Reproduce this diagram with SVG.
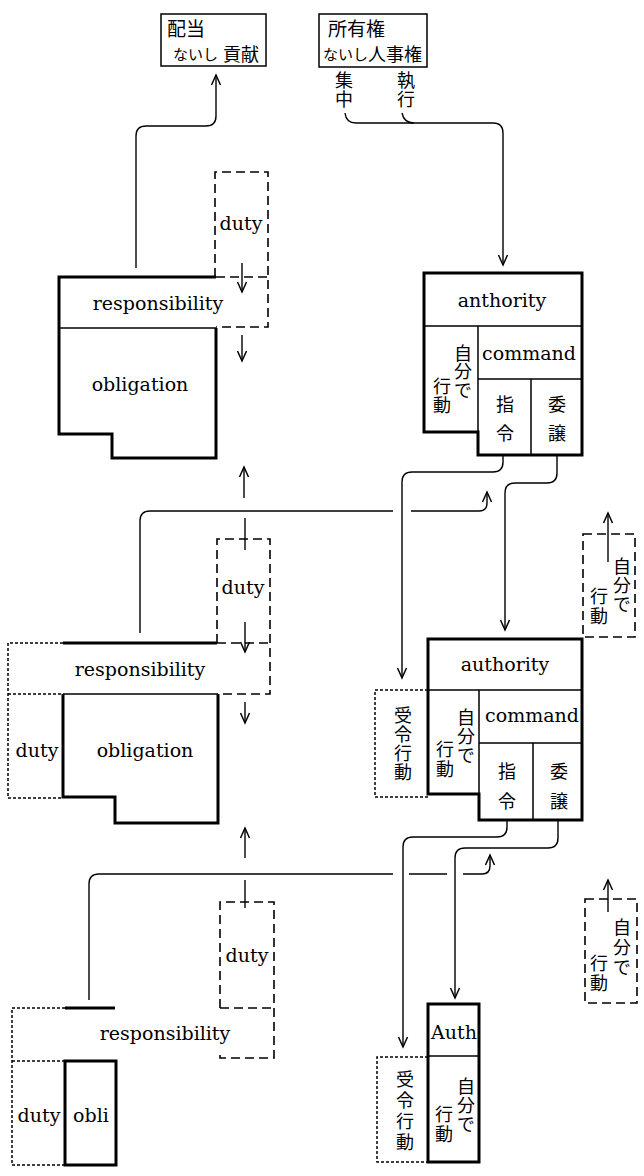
<svg xmlns="http://www.w3.org/2000/svg" width="644" height="1176" viewBox="0 0 644 1176">
<defs>
<style>
.thick{stroke:#000;stroke-width:3;fill:none;stroke-linejoin:miter}
.thin{stroke:#000;stroke-width:1.5;fill:none}
.dash{stroke:#000;stroke-width:1.6;fill:none;stroke-dasharray:9 5}
.dot{stroke:#000;stroke-width:1.5;fill:none;stroke-dasharray:3 2}
.con{stroke:#000;stroke-width:1.4;fill:none}
.en{font-family:"DejaVu Serif","Liberation Serif",serif;font-size:19px;text-anchor:middle;dominant-baseline:central;fill:#000}
.ja{font-family:"Noto Sans CJK JP","Noto Sans CJK SC",sans-serif;font-size:18px;text-anchor:middle;dominant-baseline:central;fill:#000}
.jl{font-family:"Noto Sans CJK JP","Noto Sans CJK SC",sans-serif;dominant-baseline:central;fill:#000}
.v{font-family:"Noto Sans CJK JP","Noto Sans CJK SC",sans-serif;font-size:18px;writing-mode:vertical-rl;text-anchor:start;dominant-baseline:central;fill:#000}
</style>
<marker id="ah" viewBox="-12 -7 14 14" refX="0" refY="0" markerWidth="14" markerHeight="14" markerUnits="userSpaceOnUse" orient="auto">
<path d="M-10,-4.5 L0,0 L-10,4.5" fill="none" stroke="#000" stroke-width="1.5"/>
</marker>
</defs>
<rect width="644" height="1176" fill="#fff"/>

<g id="haito">
<rect x="161" y="14" width="105" height="52" class="thin"/>
<text class="jl" x="167" y="27" font-size="19">配当</text>
<text class="jl" y="53"><tspan x="173" font-size="15">ないし</tspan><tspan x="223" font-size="18">貢献</tspan></text>
</g>

<g id="shoyuken">
<rect x="319" y="14" width="108" height="53" class="thin"/>
<text class="jl" x="328" y="27" font-size="19">所有権</text>
<text class="jl" y="53"><tspan x="323" font-size="15">ないし</tspan><tspan x="368" font-size="18">人事権</tspan></text>
</g>

<g id="shuchu">
<text class="v" x="344" y="71.5" font-size="17" letter-spacing="1">集中</text>
</g>
<g id="shikko">
<text class="v" x="406" y="71.5" font-size="17" letter-spacing="1">執行</text>
</g>

<g id="block1">
<path class="dash" d="M215,277 V172 H268 V327 H216 M216,277 H268"/>
<path class="thick" d="M216,277 H59 V434 H112 V458 H216 V328"/>
<path class="thin" d="M59,328 H216"/>
<text class="en" x="241" y="223">duty</text>
<text class="en" x="158" y="303">responsibility</text>
<text class="en" x="140" y="384">obligation</text>
</g>

<g id="anthority">
<path class="thick" d="M424,273 H582 V455 H478 V432 H424 Z"/>
<path class="thin" d="M424,326 H582 M478,326 V432 M478,379 H582 M531,379 V455"/>
<text class="en" x="502" y="300">anthority</text>
<text class="en" x="529" y="353">command</text>
<text class="v" x="463" y="344" letter-spacing="0.5">自分で</text>
<text class="v" x="442" y="377" letter-spacing="1">行動</text>
<text class="ja" x="505" y="403">指</text>
<text class="ja" x="505" y="432">令</text>
<text class="ja" x="557" y="403">委</text>
<text class="ja" x="557" y="432">譲</text>
</g>

<g id="block2">
<path class="dot" d="M63,643 H8 V798 H63 M8,694 H63"/>
<path class="dash" d="M217,643 V539 H270 V694 H218 M217,643 H270"/>
<path class="thick" d="M63,643 H217 M63,694 V797 H115 V823 H218 V694"/>
<path class="thin" d="M63,694 H218"/>
<text class="en" x="243" y="587">duty</text>
<text class="en" x="140" y="669">responsibility</text>
<text class="en" x="37" y="750">duty</text>
<text class="en" x="145" y="750">obligation</text>
</g>

<g id="authority">
<path class="dot" d="M428,690 H375 V797 H428"/>
<path class="thick" d="M428,639 H582 V820 H479 V794 H428 Z"/>
<path class="thin" d="M428,690 H582 M479,690 V794 M479,743 H582 M533,743 V820"/>
<text class="en" x="505" y="664">authority</text>
<text class="en" x="532" y="715">command</text>
<text class="v" x="403" y="706.5" font-size="19" letter-spacing="1">受令行動</text>
<text class="v" x="466" y="708" letter-spacing="1">自分で</text>
<text class="v" x="445" y="740" letter-spacing="2">行動</text>
<text class="ja" x="507" y="770">指</text>
<text class="ja" x="507" y="800">令</text>
<text class="ja" x="559" y="770">委</text>
<text class="ja" x="559" y="800">譲</text>
</g>

<g id="jibun1">
<rect x="583" y="534" width="52" height="103" class="dash"/>
<text class="v" x="622" y="557" letter-spacing="1">自分で</text>
<text class="v" x="599" y="587" letter-spacing="2">行動</text>
</g>

<g id="block3">
<path class="dot" d="M65,1008 H12 V1165 H65 M12,1061 H65"/>
<path class="dash" d="M220,1008 V902 H274 V1058 H220 V1052 M220,1008 H274"/>
<path class="thick" d="M65,1008 H115"/>
<rect x="65" y="1061" width="51" height="104" class="thick"/>
<text class="en" x="247" y="955">duty</text>
<text class="en" x="165" y="1033">responsibility</text>
<text class="en" x="39" y="1115">duty</text>
<text class="en" x="91" y="1115">obli</text>
</g>

<g id="auth">
<path class="dot" d="M428,1057 H377 V1162 H428"/>
<rect x="428" y="1004" width="51" height="158" class="thick"/>
<path class="thin" d="M428,1056 H479"/>
<text class="en" x="454" y="1032" font-size="17">Auth</text>
<text class="v" x="405" y="1070.5" font-size="19" letter-spacing="3">受令行動</text>
<text class="v" x="466" y="1077" letter-spacing="1">自分で</text>
<text class="v" x="444" y="1105" letter-spacing="2">行動</text>
</g>

<g id="jibun2">
<rect x="585" y="899" width="52" height="104" class="dash"/>
<text class="v" x="622" y="918" letter-spacing="2">自分で</text>
<text class="v" x="599" y="954" letter-spacing="2">行動</text>
</g>

<g id="connectors">
<path class="con" d="M136,268 V136 Q136,126 146,126 H206 Q216,126 216,116 V75" marker-end="url(#ah)"/>
<path class="con" d="M345,113 Q346,123 356,123 H493 Q503,123 503,133 V265" marker-end="url(#ah)"/>
<path class="con" d="M402,113 Q404,123 414,123"/>
<path class="con" d="M242,263 V292" marker-end="url(#ah)"/>
<path class="con" d="M242,335 V361" marker-end="url(#ah)"/>
<path class="con" d="M244,498 V467" marker-end="url(#ah)"/>
<path class="con" d="M245,518 V550"/>
<path class="con" d="M140,633 V521 Q140,511 150,511 H393"/>
<path class="con" d="M411,511 H479 Q487,511 487,503 V492" marker-end="url(#ah)"/>
<path class="con" d="M503,456 V462 Q503,472 493,472 H412 Q402,472 402,482 V678" marker-end="url(#ah)"/>
<path class="con" d="M557,456 V473 Q557,483 547,483 H515 Q505,483 505,493 V630" marker-end="url(#ah)"/>
<path class="con" d="M608,562 V513" marker-end="url(#ah)"/>
<path class="con" d="M245,622 V652" marker-end="url(#ah)"/>
<path class="con" d="M245,702 V723" marker-end="url(#ah)"/>
<path class="con" d="M245,858 V828" marker-end="url(#ah)"/>
<path class="con" d="M245,880 V908"/>
<path class="con" d="M89,1000 V884 Q89,874 99,874 H393"/>
<path class="con" d="M409,874 H447"/>
<path class="con" d="M463,874 H482 Q490,874 490,866 V855" marker-end="url(#ah)"/>
<path class="con" d="M507,821 V827 Q507,837 497,837 H413 Q403,837 403,847 V1047" marker-end="url(#ah)"/>
<path class="con" d="M558,821 V838 Q558,848 548,848 H465 Q455,848 455,858 V998" marker-end="url(#ah)"/>
<path class="con" d="M608,912 V880" marker-end="url(#ah)"/>
</g>
</svg>
